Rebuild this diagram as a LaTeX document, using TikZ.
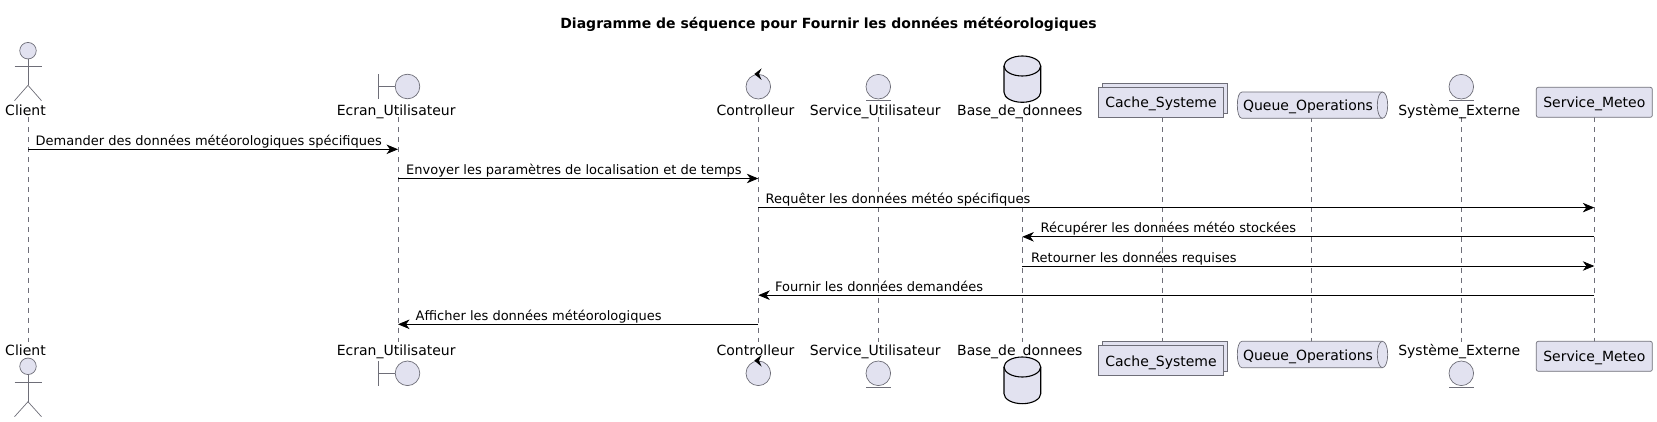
\documentclass[tikz,border=0pt]{standalone}
\usepackage{fontspec}
\setmainfont{DejaVu Sans}
\usetikzlibrary{arrows.meta}
\definecolor{partfill}{HTML}{E2E2F0}
\definecolor{partline}{HTML}{6E6E78}
\tikzset{
  part/.style={draw=partline,fill=partfill,line width=.7pt,inner sep=0pt,font=\fontsize{14}{16}\selectfont},
  round/.style={part,circle,minimum size=24.6pt},
  boxtext/.style={inner sep=0pt,anchor=base,font=\fontsize{14}{16}\selectfont},
  partlabel/.style={inner sep=0pt,anchor=base,font=\fontsize{14}{16}\selectfont},
  stick/.style={draw=partline,line width=.7pt},
  base/.style={draw=black,fill=partfill,line width=1.1pt},
  lifeline/.style={draw=partline,line width=.6pt,dash pattern=on 5pt off 5pt},
  msg/.style={draw=black,line width=.8pt,-{Stealth[length=11.5pt,width=9.5pt,inset=3.5pt]}},
  msgtext/.style={inner sep=0pt,anchor=base west,font=\fontsize{13}{16}\selectfont}
}

\begin{document}
\begin{tikzpicture}[x=1pt,y=-1pt]
   \useasboundingbox (0,0) rectangle (1657,422);
   \node[inner sep=0pt,anchor=base,font=\bfseries\fontsize{14}{16}\selectfont] (title) at (828.5,28.5) {Diagramme de séquence pour Fournir les données météorologiques};

   % lifelines
   \coordinate (cliTop) at (28,117.5);    \coordinate (cliBot) at (28,342);
   \coordinate (ecrTop) at (398,117.5);   \coordinate (ecrBot) at (398,342);
   \coordinate (conTop) at (758.3,117.5); \coordinate (conBot) at (758.3,342);
   \coordinate (serTop) at (878.3,117.5); \coordinate (serBot) at (878.3,342);
   \coordinate (basTop) at (1022.3,117.5);\coordinate (basBot) at (1022.3,342);
   \coordinate (cacTop) at (1162.7,117.5);\coordinate (cacBot) at (1162.7,342);
   \coordinate (queTop) at (1311.7,117.5);\coordinate (queBot) at (1311.7,342);
   \coordinate (sysTop) at (1461.3,117.5);\coordinate (sysBot) at (1461.3,342);
   \coordinate (metTop) at (1594.3,117.5);\coordinate (metBot) at (1594.3,342);
   \draw[lifeline] (cliTop) -- (cliBot);
   \draw[lifeline] (ecrTop) -- (ecrBot);
   \draw[lifeline] (conTop) -- (conBot);
   \draw[lifeline] (serTop) -- (serBot);
   \draw[lifeline] (basTop) -- (basBot);
   \draw[lifeline] (cacTop) -- (cacBot);
   \draw[lifeline] (queTop) -- (queBot);
   \draw[lifeline] (sysTop) -- (sysBot);
   \draw[lifeline] (metTop) -- (metBot);

   % Client
   \node[part,circle,minimum size=16.5pt] (cliHead) at (28,50.7) {};
   \coordinate (cliHip) at (28,85.3);
   \coordinate (cliArmA) at (14.5,66.3); \coordinate (cliArmB) at (41.5,66.3);
   \coordinate (cliLegA) at (14.5,100.7); \coordinate (cliLegB) at (41.5,100.7);
   \draw[stick] (cliHead) -- (cliHip);
   \draw[stick] (cliArmA) -- (cliArmB);
   \draw[stick] (cliLegA) -- (cliHip) -- (cliLegB);
   \node[partlabel] (cliLabel) at (25.5,115.3) {Client};
   \node[partlabel] (cliLabelB) at (25.5,355.3) {Client};
   \node[part,circle,minimum size=16.5pt] (cliHeadB) at (28,366.3) {};
   \coordinate (cliHipB) at (28,401.7);
   \coordinate (cliArmC) at (14.5,382.3); \coordinate (cliArmD) at (41.5,382.3);
   \coordinate (cliLegC) at (14.5,416.7); \coordinate (cliLegD) at (41.5,416.7);
   \draw[stick] (cliHeadB) -- (cliHipB);
   \draw[stick] (cliArmC) -- (cliArmD);
   \draw[stick] (cliLegC) -- (cliHipB) -- (cliLegD);

   % Ecran_Utilisateur
   \node[round] (ecrHead) at (407.5,86.5) {};
   \coordinate (ecrBarA) at (378.2,74.3); \coordinate (ecrBarB) at (378.2,98.7);
   \coordinate (ecrBarM) at (378.2,86.5);
   \draw[stick] (ecrBarA) -- (ecrBarB);
   \draw[stick] (ecrBarM) -- (ecrHead);
   \node[partlabel] (ecrLabel) at (396.2,115.3) {Ecran\_Utilisateur};
   \node[partlabel] (ecrLabelB) at (396.2,355.3) {Ecran\_Utilisateur};
   \node[round] (ecrHeadB) at (407.5,373.3) {};
   \coordinate (ecrBarC) at (378.2,361); \coordinate (ecrBarD) at (378.2,385.6);
   \coordinate (ecrBarN) at (378.2,373.3);
   \draw[stick] (ecrBarC) -- (ecrBarD);
   \draw[stick] (ecrBarN) -- (ecrHeadB);

   % Controlleur
   \node[round] (conHead) at (758.3,86.7) {};
   \fill[black] (754.3,74) -- (761.6,68.4) -- (759,74) -- (761.6,80) -- cycle;
   \node[partlabel] (conLabel) at (755.5,115.3) {Controlleur};
   \node[partlabel] (conLabelB) at (755.5,355.3) {Controlleur};
   \node[round] (conHeadB) at (758.3,373.3) {};
   \fill[black] (754.3,360.6) -- (761.6,355) -- (759,360.6) -- (761.6,366.6) -- cycle;

   % Service_Utilisateur
   \node[round] (serHead) at (878.3,86.7) {};
   \coordinate (serLineA) at (866,100.7); \coordinate (serLineB) at (890.6,100.7);
   \draw[stick] (serLineA) -- (serLineB);
   \node[partlabel] (serLabel) at (875.3,115.3) {Service\_Utilisateur};
   \node[partlabel] (serLabelB) at (875.3,355.3) {Service\_Utilisateur};
   \node[round] (serHeadB) at (878.3,373.3) {};
   \coordinate (serLineC) at (866,387.3); \coordinate (serLineD) at (890.6,387.3);
   \draw[stick] (serLineC) -- (serLineD);

   % Base_de_donnees
   \draw[base] (1004,66) -- (1004,92.3) .. controls (1004,97.8) and (1012.2,102.3) .. (1022.3,102.3)
      .. controls (1032.4,102.3) and (1040.7,97.8) .. (1040.7,92.3) -- (1040.7,66)
      .. controls (1040.7,60.5) and (1032.4,56) .. (1022.3,56)
      .. controls (1012.2,56) and (1004,60.5) .. (1004,66) -- cycle;
   \draw[draw=black,line width=1.1pt] (1004,66) .. controls (1004,71.5) and (1012.2,76) .. (1022.3,76)
      .. controls (1032.4,76) and (1040.7,71.5) .. (1040.7,66);
   \node[partlabel] (basLabel) at (1019.8,115.3) {Base\_de\_donnees};
   \node[partlabel] (basLabelB) at (1019.8,355.3) {Base\_de\_donnees};
   \draw[base] (1004,367) -- (1004,393.7) .. controls (1004,399.2) and (1012.2,403.7) .. (1022.3,403.7)
      .. controls (1032.4,403.7) and (1040.7,399.2) .. (1040.7,393.7) -- (1040.7,367)
      .. controls (1040.7,361.5) and (1032.4,357) .. (1022.3,357)
      .. controls (1012.2,357) and (1004,361.5) .. (1004,367) -- cycle;
   \draw[draw=black,line width=1.1pt] (1004,367) .. controls (1004,372.5) and (1012.2,377) .. (1022.3,377)
      .. controls (1032.4,377) and (1040.7,372.5) .. (1040.7,367);

   % Cache_Systeme
   \node[part,minimum width=125.4pt,minimum height=30pt] (cacBack) at (1165,98.3) {};
   \node[part,minimum width=125.4pt,minimum height=30pt] (cacFront) at (1161,102.5) {};
   \node[boxtext] (cacText) at (1161,107.5) {Cache\_Systeme};
   \node[part,minimum width=125.4pt,minimum height=30pt] (cacBackB) at (1165,356.3) {};
   \node[part,minimum width=125.4pt,minimum height=30pt] (cacFrontB) at (1161,360.7) {};
   \node[boxtext] (cacTextB) at (1161,366) {Cache\_Systeme};

   % Queue_Operations
   \draw[part] (1242,92) -- (1382.5,92) .. controls (1385.5,92) and (1387.7,98) .. (1387.7,105.2)
      .. controls (1387.7,112.4) and (1385.5,118.3) .. (1382.5,118.3) -- (1242,118.3)
      .. controls (1239,118.3) and (1237.3,112.4) .. (1237.3,105.2)
      .. controls (1237.3,98) and (1239,92) .. (1242,92) -- cycle;
   \draw[stick] (1382.5,92) .. controls (1379.5,92) and (1377.3,98) .. (1377.3,105.2)
      .. controls (1377.3,112.4) and (1379.5,118.3) .. (1382.5,118.3);
   \node[boxtext] (queLabel) at (1308,110.3) {Queue\_Operations};
   \draw[part] (1242,341.3) -- (1382.5,341.3) .. controls (1385.5,341.3) and (1387.7,347.3) .. (1387.7,354.5)
      .. controls (1387.7,361.7) and (1385.5,367.7) .. (1382.5,367.7) -- (1242,367.7)
      .. controls (1239,367.7) and (1237.3,361.7) .. (1237.3,354.5)
      .. controls (1237.3,347.3) and (1239,341.3) .. (1242,341.3) -- cycle;
   \draw[stick] (1382.5,341.3) .. controls (1379.5,341.3) and (1377.3,347.3) .. (1377.3,354.5)
      .. controls (1377.3,361.7) and (1379.5,367.7) .. (1382.5,367.7);
   \node[boxtext] (queLabelB) at (1308,360) {Queue\_Operations};

   % Systeme_Externe
   \node[round] (sysHead) at (1461.3,86.7) {};
   \coordinate (sysLineA) at (1449,100.7); \coordinate (sysLineB) at (1473.6,100.7);
   \draw[stick] (sysLineA) -- (sysLineB);
   \node[partlabel] (sysLabel) at (1459.3,115.3) {Système\_Externe};
   \node[partlabel] (sysLabelB) at (1459.3,355.3) {Système\_Externe};
   \node[round] (sysHeadB) at (1461.3,373.3) {};
   \coordinate (sysLineC) at (1449,387.3); \coordinate (sysLineD) at (1473.6,387.3);
   \draw[stick] (sysLineC) -- (sysLineD);

   % Service_Meteo
   \node[part,rounded corners=2pt,minimum width=116pt,minimum height=30pt] (metBox) at (1594.3,102.3) {};
   \node[boxtext] (metText) at (1594.3,107.5) {Service\_Meteo};
   \node[part,rounded corners=2pt,minimum width=116pt,minimum height=30pt] (metBoxB) at (1594.3,356.3) {};
   \node[boxtext] (metTextB) at (1594.3,361.7) {Service\_Meteo};

   % messages
   \coordinate (m1) at (0,149.3);
   \coordinate (m2) at (0,178.5);
   \coordinate (m3) at (0,207.6);
   \coordinate (m4) at (0,236.8);
   \coordinate (m5) at (0,266);
   \coordinate (m6) at (0,295.2);
   \coordinate (m7) at (0,324.3);
   \draw[msg] (cliTop |- m1) -- (ecrTop |- m1);
   \draw[msg] (ecrTop |- m2) -- (conTop |- m2);
   \draw[msg] (conTop |- m3) -- (metTop |- m3);
   \draw[msg] (metTop |- m4) -- (basTop |- m4);
   \draw[msg] (basTop |- m5) -- (metTop |- m5);
   \draw[msg] (metTop |- m6) -- (conTop |- m6);
   \draw[msg] (conTop |- m7) -- (ecrTop |- m7);
   \node[msgtext] (t1) at (35.5,145.5) {Demander des données météorologiques spécifiques};
   \node[msgtext] (t2) at (406,174.5) {Envoyer les paramètres de localisation et de temps};
   \node[msgtext] (t3) at (765.5,203.5) {Requêter les données météo spécifiques};
   \node[msgtext] (t4) at (1040.5,232.8) {Récupérer les données météo stockées};
   \node[msgtext] (t5) at (1031,262) {Retourner les données requises};
   \node[msgtext] (t6) at (775,291.2) {Fournir les données demandées};
   \node[msgtext] (t7) at (415.5,320.3) {Afficher les données météorologiques};
\end{tikzpicture}
\end{document}
